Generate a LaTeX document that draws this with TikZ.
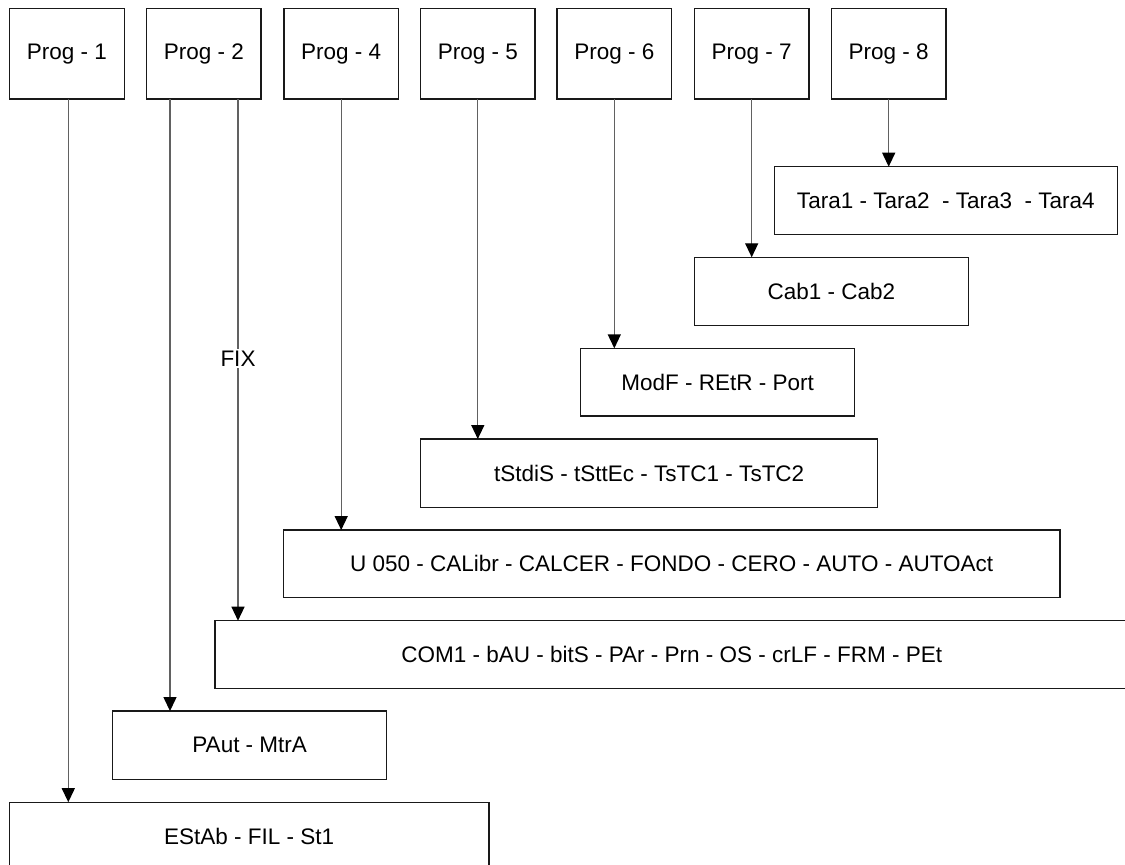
\documentclass[tikz,border=0pt]{standalone}
\usepackage{fontspec}
\setmainfont{Liberation Sans}
\usetikzlibrary{arrows.meta}
\begin{document}
\begin{tikzpicture}[x=1pt,y=-1pt,
  box/.style={draw=black!90, line width=1.2pt, inner sep=0pt, outer sep=0pt,
    font=\fontsize{22.5}{27}\selectfont},
  prog/.style={box, minimum width=114.5pt, minimum height=90.7pt},
  conn/.style={draw=black!62, line width=1.3pt, -{Triangle[width=13pt,length=14pt,color=black,fill=black]}},
  lbl/.style={fill=white, inner sep=1.5pt, font=\fontsize{22.5}{27}\selectfont}]
\useasboundingbox (0,0) rectangle (1125,865);
% top boxes
\node[prog] (p1) at (67,53.7) {Prog - 1};
\node[prog] (p2) at (203.8,53.7) {Prog - 2};
\node[prog] (p4) at (341.2,53.7) {Prog - 4};
\node[prog] (p5) at (477.8,53.7) {Prog - 5};
\node[prog] (p6) at (614.3,53.7) {Prog - 6};
\node[prog] (p7) at (751.7,53.7) {Prog - 7};
\node[prog] (p8) at (888.7,53.7) {Prog - 8};
% lower boxes
\node[box, minimum width=343pt, minimum height=67.6pt] (tara) at (945.8,200.5) {Tara1 - Tara2\ \ - Tara3\ \ - Tara4};
\node[box, minimum width=274.4pt, minimum height=68.4pt] (cab) at (831.5,291.5) {Cab1 - Cab2};
\node[box, minimum width=274pt, minimum height=67.7pt] (modf) at (717.7,382.2) {ModF - REtR - Port};
\node[box, minimum width=457pt, minimum height=68.3pt] (tst) at (649.2,473.2) {tStdiS - tSttEc - TsTC1 - TsTC2};
\node[box, minimum width=776.7pt, minimum height=67.7pt] (u050) at (671.7,563.9) {U 050 - CALibr - CALCER - FONDO - CERO - AUTO - AUTOAct};
\node[box, minimum width=913.3pt, minimum height=67.6pt] (com) at (671.7,654.5) {COM1 - bAU - bitS - PAr - Prn - OS - crLF - FRM - PEt};
\node[box, minimum width=274pt, minimum height=68.3pt] (paut) at (249.7,745.2) {PAut - MtrA};
\node[box, minimum width=479.7pt, minimum height=68pt] (estab) at (249.2,836.2) {EStAb - FIL - St1};
% connectors
\draw[conn] ([xshift=1.3pt]p1.south) -- ([xshift=1.3pt]p1.south |- estab.north);
\draw[conn] ([xshift=-33.8pt]p2.south) -- ([xshift=-33.8pt]p2.south |- paut.north);
\draw[conn] ([xshift=34.2pt]p2.south) -- ([xshift=34.2pt]p2.south |- com.north) node[lbl, pos=0.497] (fix) {FIX};
\draw[conn] (p4.south) -- (p4.south |- u050.north);
\draw[conn] (p5.south) -- (p5.south |- tst.north);
\draw[conn] (p6.south) -- (p6.south |- modf.north);
\draw[conn] (p7.south) -- (p7.south |- cab.north);
\draw[conn] (p8.south) -- (p8.south |- tara.north);
\end{tikzpicture}
\end{document}
